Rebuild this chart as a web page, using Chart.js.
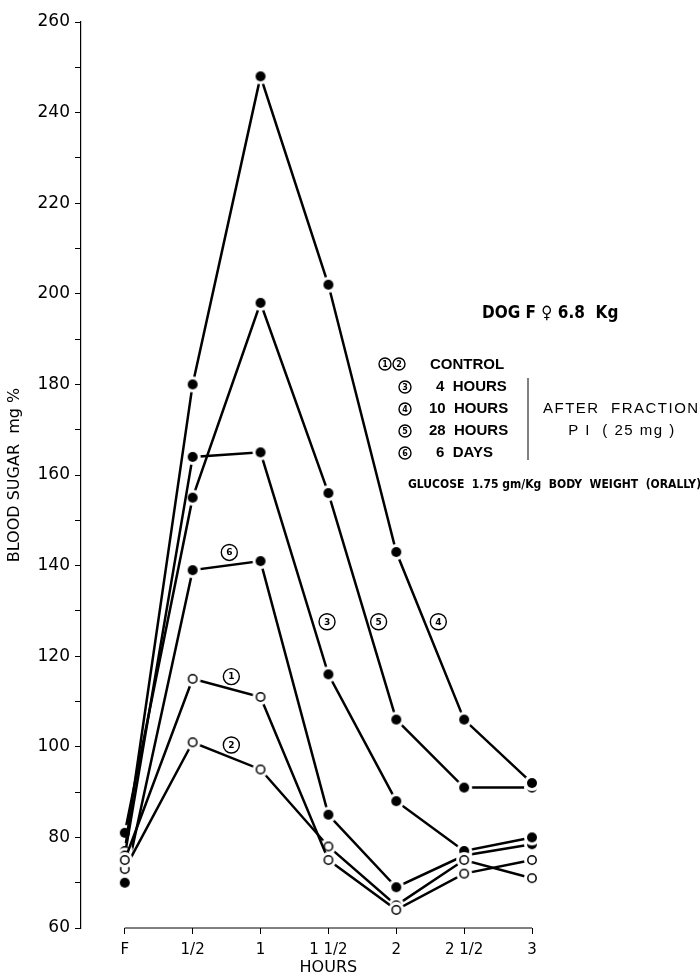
<!DOCTYPE html>
<html>
<head>
<meta charset="utf-8">
<title>Blood sugar - dog F 6.8 Kg</title>
<script src="https://cdn.jsdelivr.net/npm/chart.js"></script>
<style>
  html, body { margin: 0; padding: 0; background: #fff; }
  #wrap { width: 700px; height: 979px; }
</style>
</head>
<body>
<div id="wrap"><canvas id="sugarChart"></canvas></div>
<script>
// hours after glucose (F = fasting)
const hourLabels = ['F', '1/2', '1', '1 1/2', '2', '2 1/2', '3'];
const hourIndex = [0, 1, 2, 3, 4, 5, 6];

// blood sugar mg %
const control1 = [75, 115, 111, 75, 64, 72, 75];
const control2 = [73, 101, 95, 78, 65, 75, 71];
const hours4 = [76, 164, 165, 116, 88, 77, 80];
const hours10 = [77, 180, 248, 202, 143, 106, 92];
const hours28 = [81, 155, 198, 156, 106, 91, 91];
const days6 = [70, 139, 141, 85, 69, 76, 78.5];

const yTicksMin = 60, yTicksMax = 260;

// curve numbers placed next to the lines: [number, hour index, mg %]
const curveTags = [
  ['1', 1.57, 115.5],
  ['2', 1.57, 100.4],
  ['6', 1.54, 142.9],
  ['3', 2.98, 127.6],
  ['5', 3.74, 127.6],
  ['4', 4.62, 127.6]
];

// markers with a white halo so the line stops short of the dot
function marker(filled) {
  const c = document.createElement('canvas');
  c.width = 18; c.height = 18;
  const g = c.getContext('2d');
  g.fillStyle = '#fff';
  g.beginPath(); g.arc(9, 9, 8, 0, Math.PI * 2); g.fill();
  g.beginPath(); g.arc(9, 9, filled ? 5 : 4.2, 0, Math.PI * 2);
  if (filled) { g.fillStyle = '#000'; g.fill(); }
  else { g.lineWidth = 1.5; g.strokeStyle = '#000'; g.stroke(); }
  return c;
}
const dotFull = marker(true);
const dotOpen = marker(false);

function series(values, filled) {
  return {
    data: values.map((v, i) => ({ x: hourIndex[i], y: v })),
    borderColor: '#000',
    borderWidth: 2.5,
    pointStyle: filled ? dotFull : dotOpen,
    pointRadius: 5,
    tension: 0,
    clip: false
  };
}

function circled(ctx, x, y, r, txt, size) {
  ctx.save();
  ctx.lineWidth = 1.4;
  ctx.strokeStyle = '#000';
  ctx.fillStyle = '#fff';
  ctx.beginPath(); ctx.arc(x, y, r, 0, Math.PI * 2); ctx.fill(); ctx.stroke();
  ctx.fillStyle = '#000';
  ctx.font = 'bold ' + size + 'px "DejaVu Sans"';
  ctx.textAlign = 'center';
  ctx.textBaseline = 'middle';
  ctx.fillText(txt, x, y + 0.5);
  ctx.restore();
}

const notes = {
  id: 'notes',
  afterDatasetsDraw(chart) {
    const ctx = chart.ctx;
    const xs = chart.scales.x, ys = chart.scales.y;

    // x axis line runs only from F to 3
    ctx.save();
    ctx.strokeStyle = '#000';
    ctx.lineWidth = 1;
    ctx.beginPath();
    ctx.moveTo(xs.getPixelForValue(0), ys.bottom);
    ctx.lineTo(xs.getPixelForValue(6), ys.bottom);
    ctx.stroke();

    ctx.fillStyle = '#000';
    ctx.textBaseline = 'middle';
    ctx.textAlign = 'center';
    ctx.font = '16px "DejaVu Sans"';
    ctx.fillText('HOURS', xs.getPixelForValue(3), 968);

    curveTags.forEach(t => {
      circled(ctx, xs.getPixelForValue(t[1]), ys.getPixelForValue(t[2]), 8, t[0], 9);
    });

    // legend block
    ctx.textAlign = 'left';
    ctx.font = 'bold 17px "DejaVu Sans Condensed"';
    ctx.fillText('DOG F \u2640 6.8  Kg', 482, 314);

    circled(ctx, 385, 364, 6, '1', 8);
    circled(ctx, 399, 364, 6, '2', 8);
    circled(ctx, 405, 387, 6, '3', 8);
    circled(ctx, 405, 409, 6, '4', 8);
    circled(ctx, 405, 431, 6, '5', 8);
    circled(ctx, 405, 453, 6, '6', 8);

    ctx.font = 'bold 15px "Liberation Sans"';
    ctx.fillText('CONTROL', 430, 365);
    ctx.fillText('4  HOURS', 436, 387);
    ctx.fillText('10  HOURS', 429, 409);
    ctx.fillText('28  HOURS', 429, 431);
    ctx.fillText('6  DAYS', 436, 453);

    ctx.lineWidth = 1;
    ctx.beginPath();
    ctx.moveTo(528, 378);
    ctx.lineTo(528, 460);
    ctx.stroke();

    ctx.font = '15px "Liberation Sans"';
    ctx.letterSpacing = '1.5px';
    ctx.fillText('AFTER  FRACTION', 543, 409);
    ctx.textAlign = 'center';
    ctx.fillText('P I  ( 25 mg )', 622, 431);
    ctx.letterSpacing = '0px';

    ctx.textAlign = 'left';
    ctx.font = 'bold 12px "DejaVu Sans Condensed"';
    ctx.fillText('GLUCOSE  1.75 gm/Kg  BODY  WEIGHT  (ORALLY)', 408, 485);
    ctx.restore();
  }
};

Chart.defaults.font.family = '"DejaVu Sans", sans-serif';
Chart.defaults.color = '#000';

new Chart(document.getElementById('sugarChart'), {
  type: 'line',
  data: {
    datasets: [
      series(control1, false),
      series(control2, false),
      series(hours4, true),
      series(hours10, true),
      series(hours28, true),
      series(days6, true)
    ]
  },
  options: {
    responsive: true,
    maintainAspectRatio: false,
    animation: false,
    layout: { padding: { top: 22, right: 168, left: 0, bottom: 0 } },
    plugins: { legend: { display: false }, tooltip: { enabled: false } },
    scales: {
      x: {
        type: 'linear',
        min: -0.645,
        max: 6,
        afterBuildTicks: s => { s.ticks = hourIndex.map(v => ({ value: v })); },
        afterFit: s => { s.height = 51; },
        border: { display: false },
        grid: { drawOnChartArea: false, drawTicks: true, tickLength: 6, color: '#000' },
        ticks: {
          padding: 7,
          maxRotation: 0,
          autoSkip: false,
          font: { size: 15 },
          callback: v => hourLabels[v]
        }
      },
      y: {
        min: yTicksMin,
        max: yTicksMax,
        afterFit: s => { s.width = 81; },
        border: { color: '#000', width: 1.2 },
        grid: { drawOnChartArea: false, drawTicks: true, tickLength: 6, color: '#000' },
        ticks: {
          stepSize: 10,
          padding: 5,
          font: { size: 17 },
          callback: v => (v % 20 === 0 ? v : '')
        },
        title: {
          display: true,
          text: 'BLOOD SUGAR  mg %',
          font: { size: 16 },
          padding: { top: 5, bottom: 0 }
        }
      }
    }
  },
  plugins: [notes]
});
</script>
</body>
</html>
